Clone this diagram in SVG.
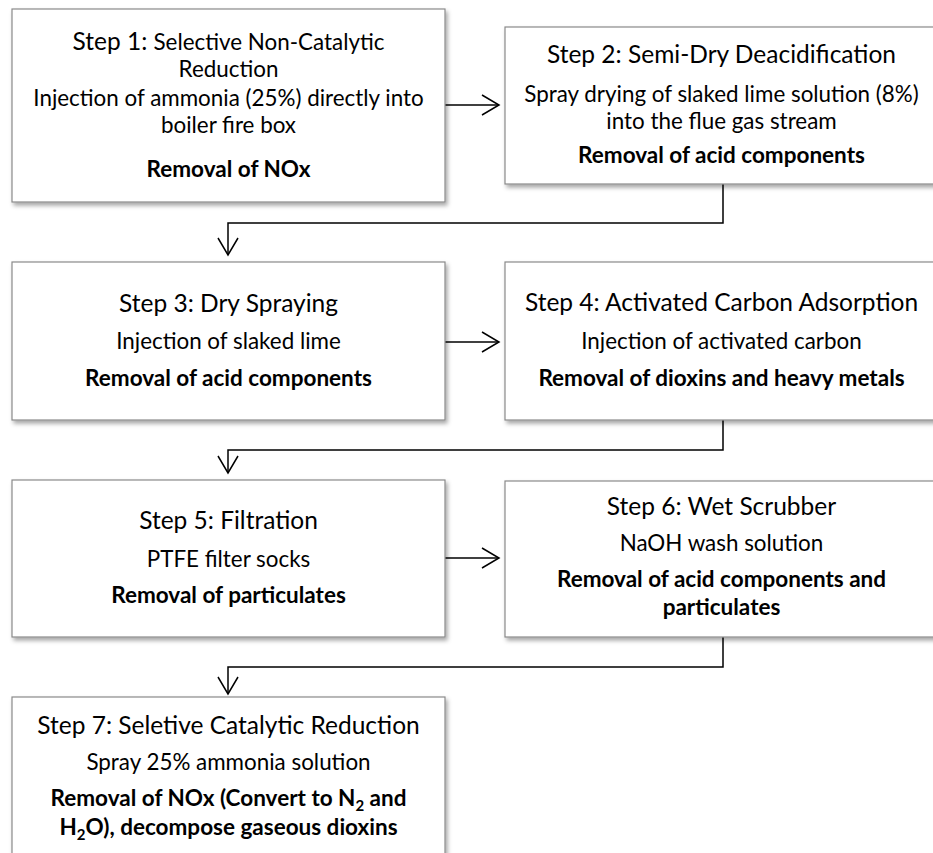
<svg xmlns="http://www.w3.org/2000/svg" width="933" height="853" viewBox="0 0 933 853">
<defs>
<filter id="sh" x="-5%" y="-5%" width="115%" height="120%">
<feDropShadow dx="2" dy="3" stdDeviation="2" flood-color="#000" flood-opacity="0.35"/>
</filter>
<marker id="ah" markerUnits="userSpaceOnUse" markerWidth="22" markerHeight="24" refX="18" refY="11" orient="auto">
<path d="M1,1 L18,11 L1,21" fill="none" stroke="#000" stroke-width="1.5"/>
</marker>
<style>
.box{fill:#fff;stroke:#8a8a8a;stroke-width:1.2;filter:url(#sh)}
.t{font-family:Lato,"Liberation Sans",sans-serif;font-size:24.5px;fill:#000;text-anchor:middle}
.b{font-family:Lato,"Liberation Sans",sans-serif;font-size:22.4px;fill:#000;text-anchor:middle}
.bb{font-family:Lato,"Liberation Sans",sans-serif;font-size:22.5px;font-weight:bold;fill:#000;text-anchor:middle}
.c{fill:none;stroke:#000;stroke-width:1.5}
</style>
</defs>
<rect width="933" height="853" fill="#fff"/>
<g id="connectors">
<path class="c" d="M445,105 H499" marker-end="url(#ah)"/>
<path class="c" d="M723,184 V223 H228 V255" marker-end="url(#ah)"/>
<path class="c" d="M445,342 H499" marker-end="url(#ah)"/>
<path class="c" d="M723,420 V450 H228 V473" marker-end="url(#ah)"/>
<path class="c" d="M445,558 H499" marker-end="url(#ah)"/>
<path class="c" d="M723,637 V667 H228 V694" marker-end="url(#ah)"/>
</g>
<g id="step1">
<rect class="box" x="12" y="9" width="433" height="193"/>
<text class="t" x="228.5" y="50">Step 1: <tspan font-size="22.4">Selective Non-Catalytic</tspan></text>
<text class="b" x="228.5" y="77">Reduction</text>
<text class="b" x="228.5" y="106">Injection of ammonia (25%) directly into</text>
<text class="b" x="228.5" y="133">boiler fire box</text>
<text class="bb" x="228.5" y="177">Removal of NOx</text>
</g>
<g id="step2">
<rect class="box" x="505" y="27" width="433" height="157"/>
<text class="t" x="721.5" y="63">Step 2: Semi-Dry Deacidification</text>
<text class="b" x="721.5" y="102">Spray drying of slaked lime solution (8%)</text>
<text class="b" x="721.5" y="129">into the flue gas stream</text>
<text class="bb" x="721.5" y="163">Removal of acid components</text>
</g>
<g id="step3">
<rect class="box" x="12" y="262" width="433" height="158"/>
<text class="t" x="228.5" y="312">Step 3: Dry Spraying</text>
<text class="b" x="228.5" y="349">Injection of slaked lime</text>
<text class="bb" x="228.5" y="386">Removal of acid components</text>
</g>
<g id="step4">
<rect class="box" x="505" y="262" width="433" height="158"/>
<text class="t" x="721.5" y="311">Step 4: Activated Carbon Adsorption</text>
<text class="b" x="721.5" y="349">Injection of activated carbon</text>
<text class="bb" x="721.5" y="386">Removal of dioxins and heavy metals</text>
</g>
<g id="step5">
<rect class="box" x="12" y="480" width="433" height="157"/>
<text class="t" x="228.5" y="529">Step 5: Filtration</text>
<text class="b" x="228.5" y="567">PTFE filter socks</text>
<text class="bb" x="228.5" y="603">Removal of particulates</text>
</g>
<g id="step6">
<rect class="box" x="505" y="481" width="433" height="156"/>
<text class="t" x="721.5" y="515">Step 6: Wet Scrubber</text>
<text class="b" x="721.5" y="551">NaOH wash solution</text>
<text class="bb" x="721.5" y="587">Removal of acid components and</text>
<text class="bb" x="721.5" y="615">particulates</text>
</g>
<g id="step7">
<rect class="box" x="12" y="697" width="433" height="190"/>
<text class="t" x="228.5" y="734">Step 7: Seletive Catalytic Reduction</text>
<text class="b" x="228.5" y="770">Spray 25% ammonia solution</text>
<text class="bb" x="228.5" y="806">Removal of NOx (Convert to N<tspan font-size="15" dy="5">2</tspan><tspan dy="-5"> and</tspan></text>
<text class="bb" x="228.5" y="835">H<tspan font-size="15" dy="5">2</tspan><tspan dy="-5">O), decompose gaseous dioxins</tspan></text>
</g>
</svg>
